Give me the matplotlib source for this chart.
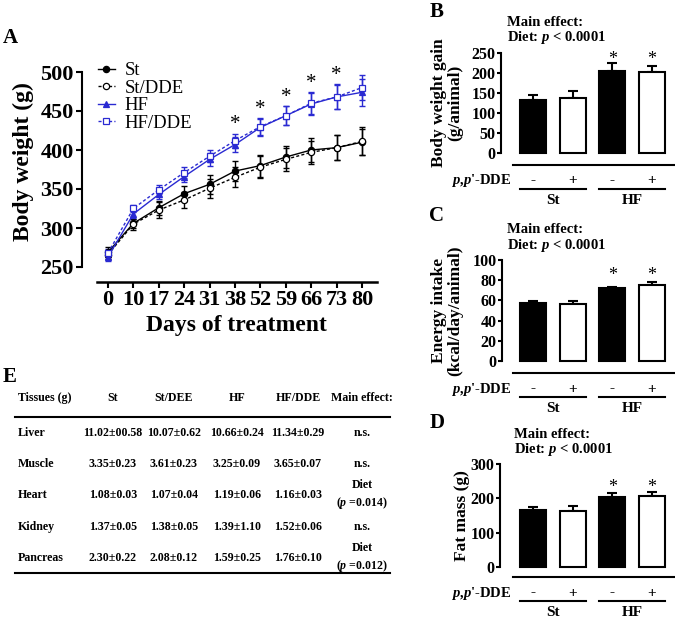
import numpy as np
import matplotlib
matplotlib.use('Agg')
import matplotlib.pyplot as plt
from matplotlib.transforms import blended_transform_factory
from matplotlib.lines import Line2D

plt.rcParams['font.family'] = ['Liberation Serif', 'DejaVu Serif']
plt.rcParams['font.weight'] = 'bold'
plt.rcParams['mathtext.fontset'] = 'custom'
plt.rcParams['mathtext.rm'] = 'Liberation Serif:bold'
plt.rcParams['mathtext.it'] = 'Liberation Serif:italic:bold'
plt.rcParams['mathtext.bf'] = 'Liberation Serif:bold'

# ---------------- data ----------------
days = ['0', '10', '17', '24', '31', '38', '52', '59', '66', '73', '80']
st = [269, 306, 326, 344, 356, 373, 380, 391, 400, 403, 410]
st_err = [6, 6, 9, 10, 12, 13, 14, 14, 15, 16, 17]
st_dde = [266, 305, 323, 336, 351, 365, 378, 388, 397, 403, 411]
st_dde_err = [6, 7, 10, 10, 12, 13, 14, 15, 15, 16, 18]
hf = [263, 318, 343, 366, 388, 407, 429, 444, 459, 468, 474]
hf_err = [5, 5, 6, 7, 8, 10, 11, 12, 14, 16, 17]
hf_dde = [268, 325, 349, 371, 392, 412, 430, 444, 460, 468, 480]
hf_dde_err = [5, 5, 6, 7, 8, 9, 11, 12, 14, 15, 16]
sig_days = ['38', '52', '59', '66', '73']

groups = ['St', 'St/DDE', 'HF', 'HF/DDE']
dde_signs = ['-', '+', '-', '+']
diet_labels = ['St', 'HF']
gain = [133, 137, 206, 202]
gain_err = [11, 17, 18, 15]
energy = [57.5, 56.5, 72.5, 75.5]
energy_err = [1.5, 3, 1, 3]
fat = [165, 163, 204, 206]
fat_err = [11, 14, 12, 12]
bar_sig = [False, False, True, True]

tbl_header = ['Tissues (g)', 'St', 'St/DEE', 'HF', 'HF/DDE', 'Main effect:']
tbl_tissues = ['Liver', 'Muscle', 'Heart', 'Kidney', 'Pancreas']
tbl_st = ['11.02±00.58', '3.35±0.23', '1.08±0.03', '1.37±0.05', '2.30±0.22']
tbl_st_dde = ['10.07±0.62', '3.61±0.23', '1.07±0.04', '1.38±0.05', '2.08±0.12']
tbl_hf = ['10.66±0.24', '3.25±0.09', '1.19±0.06', '1.39±1.10', '1.59±0.25']
tbl_hf_dde = ['11.34±0.29', '3.65±0.07', '1.16±0.03', '1.52±0.06', '1.76±0.10']
tbl_effect = ['n.s.', 'n.s.', 'Diet\n($p$ =0.014)', 'n.s.', 'Diet\n($p$ =0.012)']

W, H = 675, 623
fig = plt.figure(figsize=(W / 100, H / 100), dpi=100)
BLUE = '#2a2ad2'


def add_ax(l, t, r, b):
    return fig.add_axes([l / W, 1 - b / H, (r - l) / W, (b - t) / H])


def fx(x):
    return x / W


def fy(y):
    return 1 - y / H


# ---------------- Panel A ----------------
axA = add_ax(82, 60, 377, 282)
x = np.arange(len(days))
series = [
    (st, st_err, 'St', 'black', '-', 'o', 'black'),
    (st_dde, st_dde_err, 'St/DDE', 'black', (0, (2.2, 1.6)), 'o', 'white'),
    (hf, hf_err, 'HF', BLUE, '-', '^', BLUE),
    (hf_dde, hf_dde_err, 'HF/DDE', BLUE, (0, (2.2, 1.6)), 's', 'white'),
]
handles = []
for vals, errs, lab, col, ls, mk, mfc in series:
    axA.errorbar(x, vals, yerr=errs, fmt='none', ecolor=col, elinewidth=1.0,
                 capsize=2.5, capthick=1.0, zorder=2)
    ln, = axA.plot(x, vals, color=col, linestyle=ls, linewidth=1.0, marker=mk,
                   markersize=4.5, markerfacecolor=mfc, markeredgecolor=col,
                   markeredgewidth=0.9, label=lab, zorder=3)
    handles.append(ln)

for d in sig_days:
    i = days.index(d)
    top = max(hf[i] + hf_err[i], hf_dde[i] + hf_dde_err[i])
    axA.annotate('*', xy=(i, top), xytext=(0, -0.5), textcoords='offset points',
                 ha='center', va='bottom', fontsize=15, fontweight='normal')

axA.set_xlim((82 - 108) / 25.4, (377 - 108) / 25.4)
axA.set_ylim(500 - (282 - 72) / 0.78, 500 + (72 - 60) / 0.78)
axA.spines['top'].set_visible(False)
axA.spines['right'].set_visible(False)
axA.spines['left'].set_bounds(250, 500)
axA.spines['bottom'].set_bounds((97 - 108) / 25.4, (377 - 108) / 25.4)
axA.spines['left'].set_linewidth(1.5)
axA.spines['bottom'].set_linewidth(1.8)
axA.set_xticks(x)
axA.set_xticklabels(days)
axA.set_yticks([250, 300, 350, 400, 450, 500])
axA.tick_params(axis='both', labelsize=16, width=1.5, length=4, pad=2)
for t in axA.get_xticklabels() + axA.get_yticklabels():
    t.set_fontweight('bold')
axA.patch.set_alpha(0)

axA.legend(handles=handles, loc='upper left',
           bbox_to_anchor=(fx(98), fy(62)), bbox_transform=fig.transFigure,
           frameon=False, borderpad=0, borderaxespad=0, handlelength=0.9,
           handletextpad=0.5, labelspacing=0.02, numpoints=1,
           prop=dict(family='Liberation Serif', weight='normal', size=13.5))

fig.text(fx(23), fy(162), 'Body weight (g)', rotation=90, ha='center',
         va='center', fontsize=17, fontweight='bold')
fig.text(fx(236), fy(325), 'Days of treatment', ha='center', va='center',
         fontsize=17, fontweight='bold')
fig.text(fx(10), fy(38), 'A', ha='center', va='center', fontsize=15,
         fontweight='bold')

# ---------------- Bar panels ----------------
bar_x = np.arange(len(groups))
bar_colors = ['black', 'white', 'black', 'white']
STEP = 39.67
C0 = 533


def bar_panel(l, r, ytop_px, y0_px, yaxis_px, top_val, ticks, vals, errs,
              letter, letter_y, me_x, ylabel, ylabel_x, star_off_px):
    ppu = (y0_px - ytop_px) / top_val
    t_px = ytop_px - 10
    ax = add_ax(l, t_px, r, yaxis_px)
    ax.bar(bar_x, vals, width=0.655, color=bar_colors, edgecolor='black',
           linewidth=1.5, zorder=2)
    lower = [0] * len(vals)
    ax.errorbar(bar_x, vals, yerr=[lower, errs], fmt='none', ecolor='black',
                elinewidth=1.5, capsize=3.6, capthick=1.5, zorder=1)
    tops = [v + e for v, e in zip(vals, errs)]
    star_y = max(t for t, s in zip(tops, bar_sig) if s)
    for i, s in enumerate(bar_sig):
        if s:
            ax.annotate('*', xy=(bar_x[i], star_y), xytext=(0, star_off_px),
                        textcoords='offset points', ha='center', va='bottom',
                        fontsize=13, fontweight='normal')
    ax.set_xlim((l - C0) / STEP, (r - C0) / STEP)
    ax.set_ylim(-(yaxis_px - y0_px) / ppu, top_val + (ytop_px - t_px) / ppu)
    ax.spines['top'].set_visible(False)
    ax.spines['right'].set_visible(False)
    ax.spines['left'].set_bounds(0, top_val)
    ax.spines['bottom'].set_bounds((513 - C0) / STEP, (r - C0) / STEP)
    ax.spines['left'].set_linewidth(1.5)
    ax.spines['bottom'].set_linewidth(1.5)
    ax.set_xticks([])
    ax.set_yticks(ticks)
    ax.tick_params(axis='y', labelsize=11.5, width=1.5, length=3, pad=1)
    for t in ax.get_yticklabels():
        t.set_fontweight('bold')
    ax.patch.set_alpha(0)

    tr = blended_transform_factory(ax.transData, fig.transFigure)
    row_y = fy(yaxis_px + 16)
    for i, s in enumerate(dde_signs):
        ax.text(bar_x[i], row_y, s, transform=tr, ha='center', va='center',
                fontsize=11, fontweight='bold', clip_on=False)
    fig.text(fx(511), row_y, "$p$,$p$'-DDE", ha='right', va='center',
             fontsize=10.5)
    for g, lab in enumerate(diet_labels):
        x0 = bar_x[2 * g] - 0.33
        x1 = bar_x[2 * g + 1] + 0.33
        ax.plot([x0, x1], [fy(yaxis_px + 24)] * 2, transform=tr, color='black',
                linewidth=1.5, clip_on=False)
        ax.text((x0 + x1) / 2, fy(yaxis_px + 36), lab, transform=tr,
                ha='center', va='center', fontsize=11, fontweight='bold',
                clip_on=False)
    fig.text(fx(437), fy(letter_y), letter, ha='center', va='center',
             fontsize=15, fontweight='bold')
    fig.text(fx(me_x), fy(ytop_px - 30), 'Main effect:', ha='left',
             va='center', fontsize=10.5, fontweight='bold')
    fig.text(fx(me_x), fy(ytop_px - 15), 'Diet: $p$ < 0.0001', ha='left',
             va='center', fontsize=10.5, fontweight='bold')
    fig.text(fx(ylabel_x), fy((ytop_px + y0_px) / 2), ylabel, rotation=90,
             ha='center', va='center', fontsize=12.5, fontweight='bold',
             multialignment='center', linespacing=1.0)
    return ax


bar_panel(501, 675, 53, 153, 165, 250, [0, 50, 100, 150, 200, 250], gain,
          gain_err, 'B', 12, 507, 'Body weight gain\n(g/animal)', 447, -3)
bar_panel(502, 675, 260, 361, 373, 100, [0, 20, 40, 60, 80, 100], energy,
          energy_err, 'C', 216, 507, 'Energy intake\n(kcal/day/animal)', 447, -2)
bar_panel(500, 675, 464, 567, 577, 300, [0, 100, 200, 300], fat, fat_err,
          'D', 423, 514, 'Fat mass (g)', 462, -2.5)

# ---------------- Panel E: table ----------------
fig.text(fx(10), fy(377), 'E', ha='center', va='center', fontsize=15,
         fontweight='bold')
col_x = [18, 113, 174, 237, 298, 362]
hdr_y = 398
row_y = [433, 464, 495, 527, 558]
TS = 8.6
for j, h in enumerate(tbl_header):
    fig.text(fx(col_x[j]), fy(hdr_y), h, ha='left' if j == 0 else 'center',
             va='center', fontsize=TS, fontweight='bold')
fig.add_artist(Line2D([fx(15), fx(390)], [fy(417), fy(417)], color='black',
                      linewidth=1.5))
fig.add_artist(Line2D([fx(15), fx(390)], [fy(573), fy(573)], color='black',
                      linewidth=1.5))
cols = [tbl_tissues, tbl_st, tbl_st_dde, tbl_hf, tbl_hf_dde, tbl_effect]
for j, col in enumerate(cols):
    for i, val in enumerate(col):
        fig.text(fx(col_x[j]), fy(row_y[i]), val,
                 ha='left' if j == 0 else 'center', va='center',
                 fontsize=TS, fontweight='bold', multialignment='center',
                 linespacing=1.35)

fig.savefig('out.png', dpi=100)
